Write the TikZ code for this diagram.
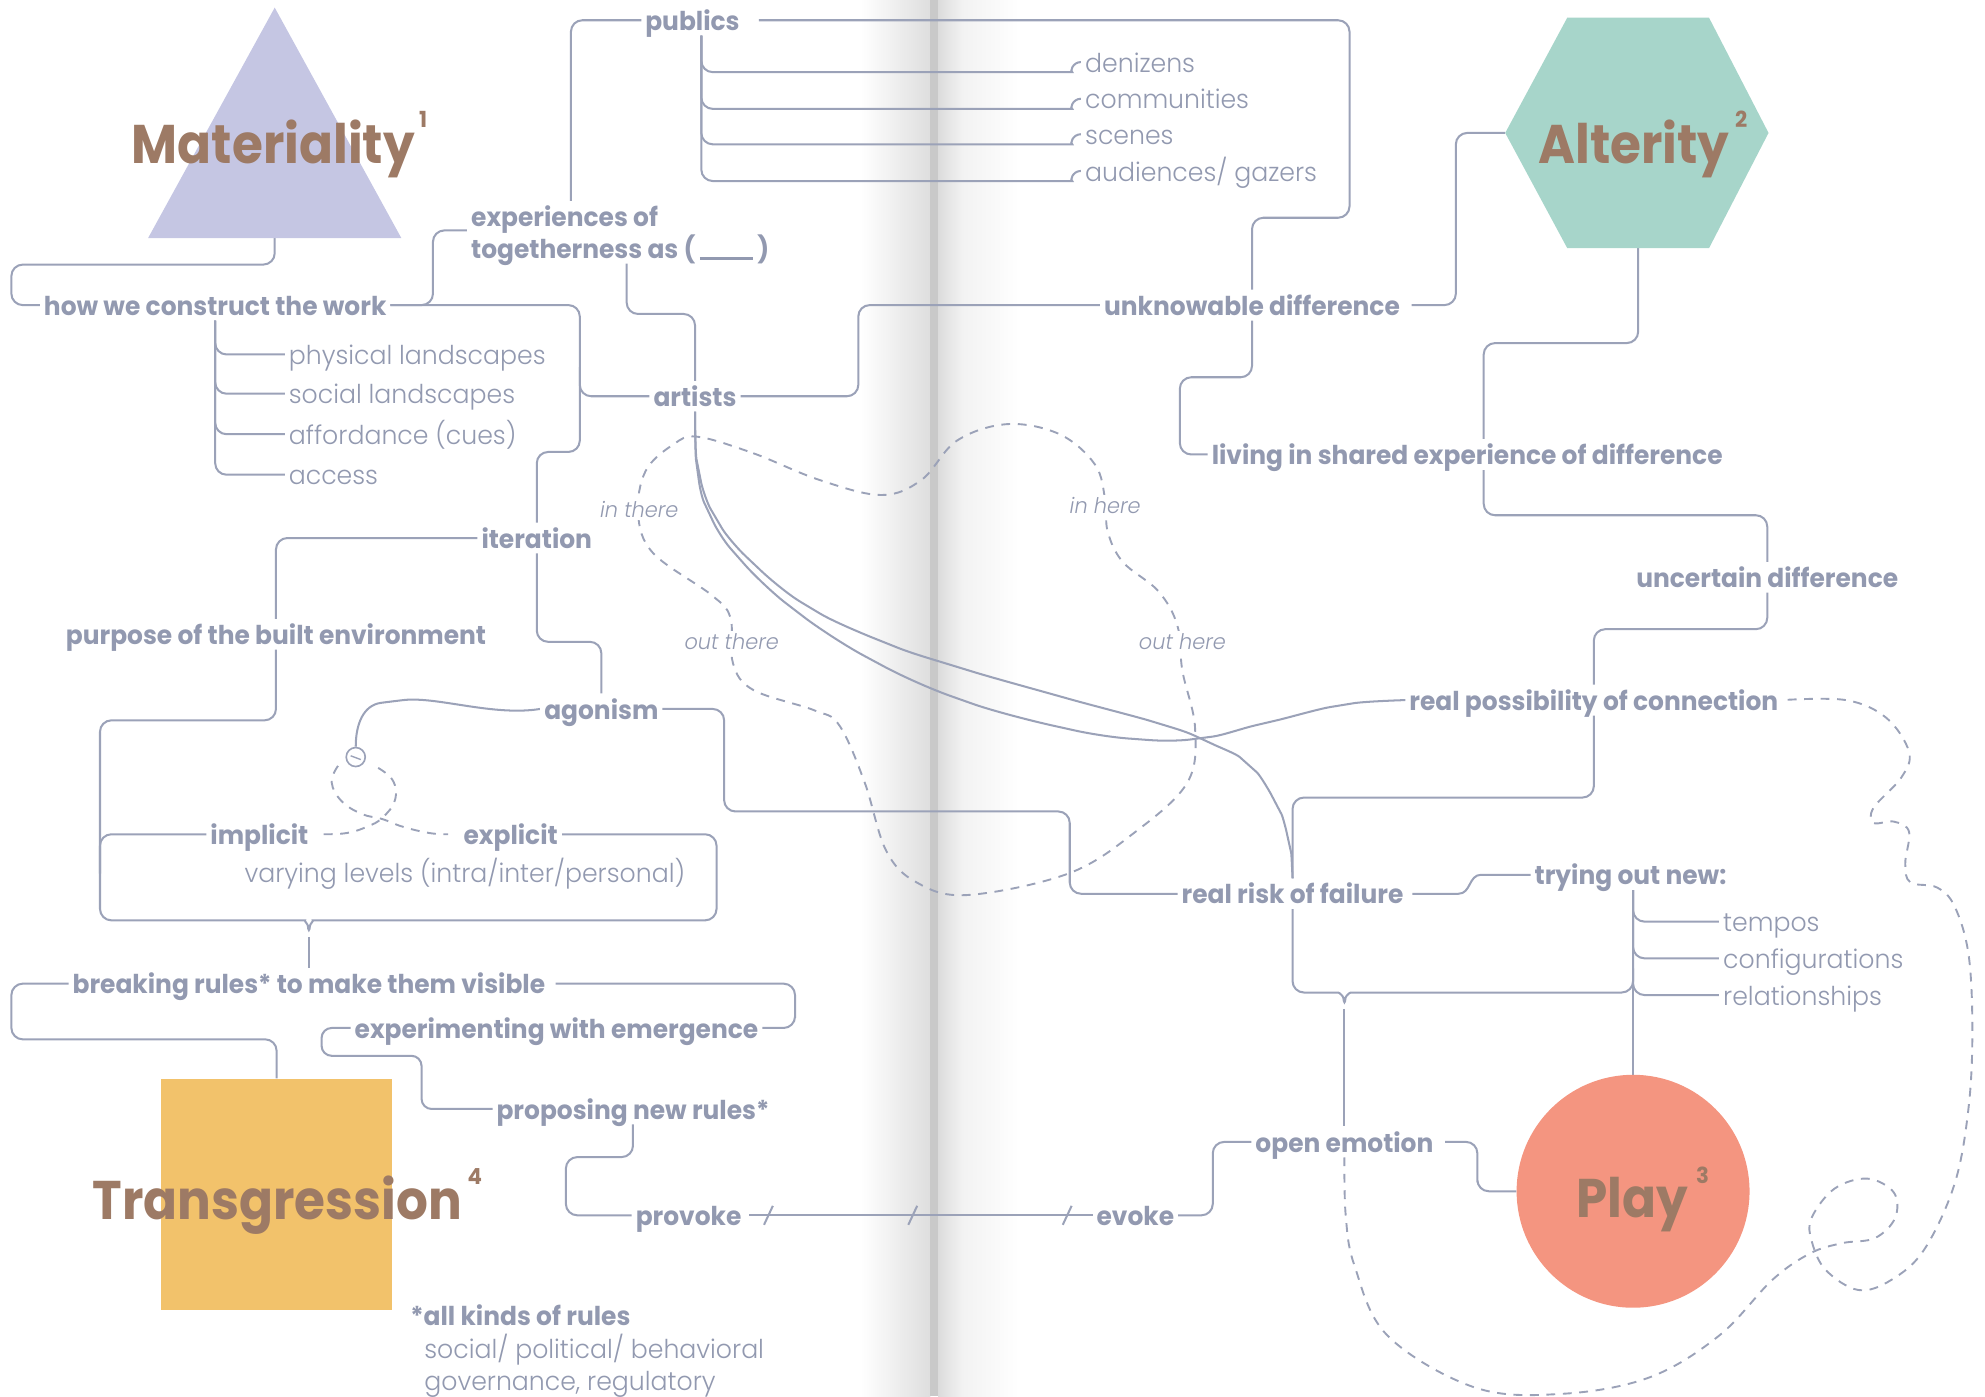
\documentclass[tikz,border=0pt]{standalone}
\usepackage{fontspec}
\setmainfont{Poppins}
\newfontfamily\labfont{Poppins}[FakeStretch=0.96]
\newfontfamily\ltfont{Poppins Light}[FakeStretch=0.97]
\newfontfamily\ttlfont{Poppins}[FakeStretch=0.92]
\usetikzlibrary{calc}
\definecolor{lc}{HTML}{9BA2B8}
\definecolor{tc}{HTML}{9299B0}
\definecolor{tric}{HTML}{C5C6E3}
\definecolor{hexc}{HTML}{A7D5CA}
\definecolor{playc}{HTML}{F49580}
\definecolor{transc}{HTML}{F2C26B}
\definecolor{brn}{HTML}{9D7A65}
\pgfdeclarelayer{bg}
\pgfdeclarelayer{ln}
\pgfsetlayers{bg,ln,main}
\begin{document}
\begin{tikzpicture}[x=1pt,y=-1pt,
 lab/.style={font=\labfont\fontsize{20.5}{24}\selectfont\bfseries, text=tc, fill=white, inner xsep=3pt, inner ysep=2pt, text height=18pt, text depth=2pt},
 lt/.style={font=\ltfont\fontsize{20.5}{24}\selectfont, text=tc, fill=white, inner xsep=3pt, inner ysep=2pt, text height=18pt, text depth=2pt},
 itl/.style={font=\ltfont\fontsize{17}{20}\selectfont\itshape, text=tc, fill=white, inner sep=2pt},
 ttl/.style={font=\ttlfont\fontsize{43}{48}\selectfont\bfseries, text=brn, inner sep=0pt},
 sup/.style={font=\labfont\fontsize{17.5}{18}\selectfont\bfseries, text=brn, inner sep=0pt, anchor=base west},
 conn/.style={draw=lc, line width=1.6pt, rounded corners=9pt},
 dsh/.style={draw=lc, line width=1.5pt, dash pattern=on 7pt off 6pt}]

\useasboundingbox (0,0) rectangle (1568,1103);

% gutter shading
\begin{pgfonlayer}{bg}
 \fill[left color=white, right color=black!13] (680,0) rectangle (735,1103);
 \fill[black!21] (735,0) rectangle (741,1103);
 \fill[left color=black!14, right color=black!5] (741,0) rectangle (760,1103);
 \fill[left color=black!5, right color=white] (760,0) rectangle (805,1103);
\end{pgfonlayer}

% big shapes
\fill[tric] (217,6) -- (317,188) -- (117,188) -- cycle;
\coordinate (triB) at (217,188);
\fill[hexc] (1238,14) -- (1350,14) -- (1397,105) -- (1350,196) -- (1238,196) -- (1189,105) -- cycle;
\coordinate (hexL) at (1189,105);
\coordinate (hexB) at (1294,196);
\node[circle, fill=playc, minimum size=184pt, inner sep=0pt] (play) at (1290,941) {};
\node[fill=transc, minimum width=183pt, minimum height=183pt, inner sep=0pt] (trans) at (218.5,943.5) {};

% titles
\node[ttl, anchor=base west] (tmat) at (104,129) {Materiality};
\node[sup] at ([shift={(3,-28)}]tmat.base east) {1};
\node[ttl, anchor=base west] (talt) at (1215,129) {Alterity};
\node[sup] at ([shift={(4,-28)}]talt.base east) {2};
\node[ttl, anchor=base west] (tplay) at (1245,962) {Play};
\node[sup] at ([shift={(6,-27)}]tplay.base east) {3};
\node[ttl, anchor=base west] (ttrans) at (73,963) {Transgression};
\node[sup] at ([shift={(4,-27)}]ttrans.base east) {4};

% bold labels
\node[lab, anchor=base] (publics) at (547,24) {publics};
\node[lab, anchor=base west] (exp1) at (369,179) {experiences of};
\node[lab, anchor=base west] (exp2) at (369,204) {togetherness as (\,\rule[-1pt]{42pt}{1.6pt}\,)};
\node[lab, anchor=base] (how) at (170,249) {how we construct the work};
\node[lab, anchor=base] (artists) at (549,321) {artists};
\node[lab, anchor=base] (unk) at (989,249) {unknowable difference};
\node[lab, anchor=base west] (living) at (954,367) {living in shared experience of difference};
\node[lab, anchor=base] (iteration) at (424,433) {iteration};
\node[lab, anchor=base] (purpose) at (218,509) {purpose of the built environment};
\node[lab, anchor=base] (unc) at (1396,464) {uncertain difference};
\node[lab, anchor=base] (agonism) at (475,568) {agonism};
\node[lab, anchor=base] (realpos) at (1259,561) {real possibility of connection};
\node[lab, anchor=base west] (implicit) at (163,667) {implicit};
\node[lab, anchor=base west] (explicit) at (363,667) {explicit};
\node[lab, anchor=base] (realrisk) at (1021,714) {real risk of failure};
\node[lab, anchor=base] (trying) at (1288,699) {trying out new:};
\node[lab, anchor=base] (breaking) at (244,785) {breaking rules* to make them visible};
\node[lab, anchor=base west] (experimenting) at (277,820) {experimenting with emergence};
\node[lab, anchor=base] (proposing) at (500,884) {proposing new rules*};
\node[lab, anchor=base west] (provoke) at (499,968) {provoke};
\node[lab, anchor=base west] (evoke) at (863,968) {evoke};
\node[lab, anchor=base] (openemo) at (1062,910) {open emotion};
\node[lab, anchor=base west] (allkinds) at (321,1047) {*all kinds of rules};

% light labels
\node[lt, anchor=base west] (den) at (854,57) {denizens};
\node[lt, anchor=base west] (comm) at (854,86) {communities};
\node[lt, anchor=base west] (scenes) at (854,114) {scenes};
\node[lt, anchor=base west] (aud) at (854,143) {audiences/ gazers};
\node[lt, anchor=base west] (phys) at (225,288) {physical landscapes};
\node[lt, anchor=base west] (soc) at (225,319) {social landscapes};
\node[lt, anchor=base west] (aff) at (225,351) {affordance (cues)};
\node[lt, anchor=base west] (acc) at (225,383) {access};
\node[lt, anchor=base west] (varying) at (190,697) {varying levels (intra/inter/personal)};
\node[lt, anchor=base west] (tempos) at (1358,736) {tempos};
\node[lt, anchor=base west] (config) at (1358,765) {configurations};
\node[lt, anchor=base west] (relat) at (1358,794) {relationships};
\node[lt, anchor=base west] (sp) at (332,1073) {social/ political/ behavioral};
\node[lt, anchor=base west] (gov) at (332,1098) {governance, regulatory};

% italic labels
\node[itl, anchor=base] (inthere) at (505,409) {in there};
\node[itl, anchor=base] (inhere) at (873,406) {in here};
\node[itl, anchor=base] (outthere) at (578,513) {out there};
\node[itl, anchor=base] (outhere) at (934,513) {out here};

% knot
\node[circle, draw=lc, line width=1.3pt, minimum size=15pt, inner sep=0pt, fill=white] (knot) at (281,598) {};
\draw[lc, line width=1.1pt] (277,597) -- (285,600);

% helper coordinates
\coordinate (y172) at (0,172);
\coordinate (y248) at (0,248);
\coordinate (y357) at (0,357);
\coordinate (y407) at (0,407);
\coordinate (y497) at (0,497);
\coordinate (y507) at (0,507);
\coordinate (y630) at (0,630);
\coordinate (y784) at (0,784);
\coordinate (y765) at (0,765);
\coordinate (y821) at (0,821);
\coordinate (x1152) at (1152,0);
\coordinate (x1170) at (1170,0);
\coordinate (cusp1) at (244,740);
\coordinate (cusp2) at (1062,797);
\coordinate (tb) at (play.north |- trying.south);
\coordinate (imE) at ([xshift=9pt]implicit.east);
\coordinate (exW) at ([xshift=-9pt]explicit.west);
\coordinate (rr1) at (realrisk.east -| x1152);
\coordinate (rr2) at (trying.west -| x1170);

\begin{pgfonlayer}{ln}
% Materiality side
\draw[conn] (triB) |- (9,209) |- (how.west);
\draw[conn] (how.east) -| (342,200) |- ([shift={(0,3)}]exp1.base west);
\draw[conn] (how.east) -| (458,290) |- (artists.west);
\draw[conn] (458,290) |- (iteration.north |- y357) -- (iteration.north);
\foreach \n in {phys,soc,aff,acc} \draw[conn] (how.south) |- (\n.west);
\draw[conn] ([xshift=82pt]exp1.north west) |- (publics.west);
\draw[conn] ([xshift=126pt]exp2.south west) |- (artists.north |- y248) -- (artists.north);
\foreach \n in {den,comm,scenes,aud}
  \draw[conn] ([xshift=7pt]publics.south) |- ([shift={(-16,8)}]\n.west) to[out=0,in=180] (\n.west);
\draw[conn] ([xshift=12pt]publics.east) -| (1066,100) |- (unk.north |- y172) -- (unk.north);
\draw[conn] (unk.south) |- (932,298) |- (living.west);
\draw[conn] (artists.east) -| (678,280) |- (unk.west);
\draw[conn] ([xshift=6pt]unk.east) -| (1150,150) |- (hexL);
% Alterity side
\draw[conn] (hexB) |- (1172,271) |- (unc.north |- y407) -- (unc.north);
\draw[conn] (unc.south) |- (realpos.north |- y497) -- (realpos.north);
\draw[conn] (realpos.south) |- (realrisk.north |- y630) -- (realrisk.north);
\draw[conn] (realrisk.south) |- (1048,784) .. controls (1058,784) and (1061,787) .. (cusp2)
   .. controls (1063,787) and (1066,784) .. (1076,784) -- (play.north |- y784) -- (play.north |- y765);
\draw[conn] (cusp2) -- (openemo.north);
\draw[conn] (tb) -- (play.north);
\foreach \n in {tempos,config,relat} \draw[conn] (tb) |- (\n.west);
\draw[lc, line width=1.6pt] ([xshift=4pt]realrisk.east) -- (rr1) .. controls +(10,0) and +(-10,0) .. (rr2) -- (trying.west);
% middle
\draw[conn] (agonism.east) -| (572,600) |- (845,641) |- (realrisk.west);
\draw[conn] (iteration.west) -| (purpose.north);
\draw[conn] (iteration.south) |- (agonism.north |- y507) -- (agonism.north);
\draw[conn] (purpose.south) |- (79,569) -- (79,727) -- (232,727) .. controls (240,727) and (243,730) .. (cusp1)
   .. controls (245,730) and (248,727) .. (256,727) -| (566,690) |- (explicit.east);
\draw[conn] (79,690) |- (implicit.west);
\draw[conn] (cusp1) -- (breaking.north);
\draw[conn] (agonism.west) .. controls (390,566) and (345,550) .. (310,554) .. controls (287,557) and (281,572) .. (knot.north);
\draw[dsh] plot[smooth, tension=0.7] coordinates {(imE) (274,658) (290,653) (302,646) (312,632) (310,616) (296,605)};
\draw[dsh] plot[smooth, tension=0.7] coordinates {(267,605) (262,618) (270,633) (286,643) (302,647) (318,653) (339,658) (exW)};
% Transgression side
\draw[conn] ([xshift=5pt]breaking.east) -| (628,795) |- (experimenting.east);
\draw[conn] (breaking.west) -| (9,800) |- (trans.north |- y821) -- (trans.north);
\draw[conn, rounded corners=8pt] (experimenting.west) -| (254,834) -| (333,860) |- (proposing.west);
\draw[conn] (proposing.south) |- (447,914) |- (provoke.west);
\draw[conn] ([xshift=3pt]provoke.east) -- (evoke.west);
\foreach \tx in {607,721,843} \draw[lc, line width=1.6pt] (\tx-3.5,967.5) -- (\tx+3.5,952.5);
\draw[conn] (evoke.east) -| (958,930) |- (openemo.west);
\draw[conn] ([xshift=6pt]openemo.east) -| (1167,925) |- (play.west);
% artists curves
\draw[conn] plot[smooth, tension=0.6] coordinates {(artists.south) (552,372) (566,410) (595,445) (640,480) (700,508) (760,528) (837,550) (917,572) (952,585) (986,604) (1008,635) (1018,665) (realrisk.north)};
\draw[conn] plot[smooth, tension=0.6] coordinates {(artists.south) (551,372) (560,405) (583,440) (628,482) (690,522) (760,553) (840,575) (900,584) (949,583) (1000,571) (1060,557) (realpos.west)};
% in/out closed dashed curve
\draw[dsh] plot[smooth cycle, tension=0.6] coordinates {(551,345) (595,358) (647,379) (696,391) (728,379) (756,348) (796,335) (837,343) (865,367) (873,395) (875,420) (887,444) (915,467) (930,494) (934,530) (944,575) (938,618) (897,657) (844,690) (764,707) (724,697) (700,672) (683,618) (663,573) (643,561) (595,545) (579,524) (577,488) (562,470) (516,437) (504,406) (510,372) (532,351)};
% big dashed loop
\draw[dsh] plot[smooth, tension=0.6] coordinates {(openemo.south) (1063,960) (1070,1000) (1096,1055) (1165,1096) (1234,1101) (1303,1088) (1358,1055) (1400,1011) (1430,990) (1455,982) (1481,978) (1497,962) (1496,942) (1475,931) (1449,939) (1431,962) (1431,980) (1442,1003) (1468,1019) (1494,1011) (1520,987) (1544,935) (1555,875) (1558,814) (1555,754) (1544,716) (1530,701) (1509,697) (1505,682) (1508,657) (1496,649) (1480,650) (1480,638) (1502,614) (1508,594) (1490,567) (1458,553) (realpos.east)};
\end{pgfonlayer}
\end{tikzpicture}
\end{document}
